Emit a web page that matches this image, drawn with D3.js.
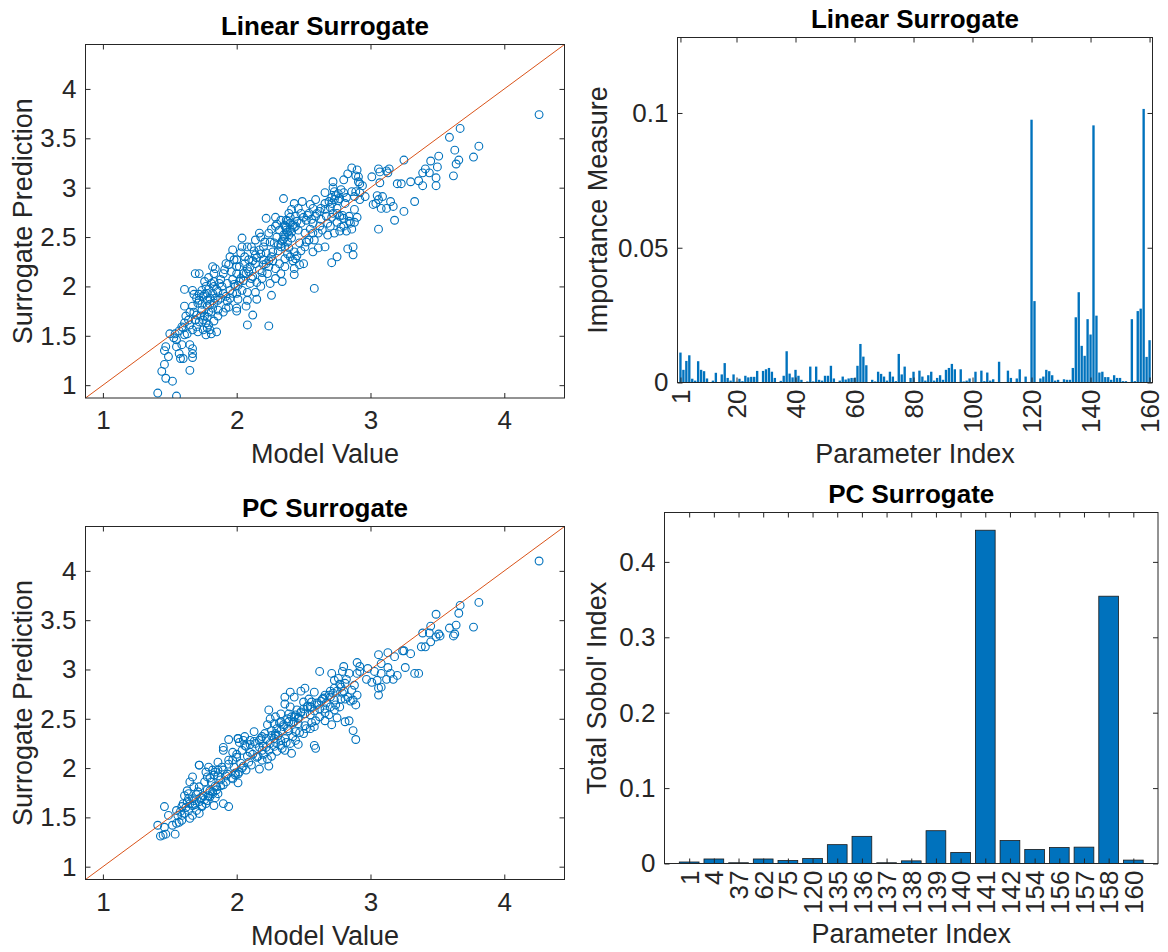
<!DOCTYPE html>
<html>
<head>
<meta charset="utf-8">
<script src="https://cdn.jsdelivr.net/npm/d3@7"></script>
<style>
  html, body { margin: 0; padding: 0; background: #ffffff; }
  svg { display: block; font-family: "Liberation Sans", Arial, Helvetica, sans-serif; }
</style>
</head>
<body>
<script>
// ---------- data ----------
// Linear surrogate: model value vs surrogate prediction
const linModel = [4.26,3.67,3.59,3.63,3.81,3.77,3.66,3.64,3.62,3.51,3.45,3.50,3.41,3.39,3.44,3.49,3.49,3.39,3.36,3.30,3.25,3.23,3.20,3.33,3.25,3.18,3.17,3.12,3.15,3.09,3.08,3.04,3.02,3.06,3.05,3.06,3.01,3.06,3.07,3.12,3.13,2.96,3.14,3.07,2.86,2.90,2.91,2.91,2.92,2.83,2.80,2.72,2.72,2.66,2.73,2.80,2.88,2.89,2.73,2.77,2.81,2.75,2.72,2.77,2.84,2.88,2.88,2.85,2.80,2.75,2.70,2.73,2.68,2.64,2.87,2.83,2.87,2.75,2.71,2.66,2.58,2.62,2.66,2.63,2.59,2.57,2.55,2.54,2.49,2.48,2.43,2.41,2.46,2.35,2.44,2.39,2.37,2.33,2.36,2.32,2.40,2.44,2.48,2.52,2.57,2.61,2.57,2.51,2.54,2.58,2.61,2.57,2.51,2.47,2.41,2.36,2.30,2.28,2.33,2.39,2.43,2.44,2.50,2.47,2.43,2.43,2.36,2.36,2.32,2.29,2.33,2.29,2.34,2.25,2.23,2.22,2.26,2.22,2.20,2.17,2.14,2.20,2.14,2.10,2.17,2.19,2.15,2.18,2.14,2.26,2.15,2.08,2.07,2.12,2.08,2.24,2.08,2.10,2.11,2.07,2.03,2.06,2.06,2.03,2.04,2.04,2.00,1.97,2.00,1.96,2.00,1.97,1.93,2.01,2.04,2.00,2.01,2.00,2.00,1.94,1.93,1.90,1.89,1.88,1.90,1.91,1.94,1.84,1.82,1.83,1.83,1.83,1.86,1.82,1.86,1.83,1.86,1.90,1.81,1.78,1.83,1.79,1.81,1.85,1.77,1.75,1.77,1.78,1.78,1.78,1.77,1.74,1.75,1.72,1.71,1.74,1.70,1.69,1.72,1.70,1.71,1.67,1.65,1.64,1.61,1.63,1.61,1.59,1.61,1.61,1.67,1.69,1.72,1.65,1.67,1.65,1.67,1.67,1.67,1.59,1.55,1.57,1.58,1.60,1.55,1.54,1.53,1.50,1.47,1.46,1.49,1.46,1.44,1.47,1.52,1.65,1.41,1.55,2.08,1.92,2.22,2.17,2.18,2.29,2.29,2.14,2.11,2.24,2.38,2.40,2.42,2.37,2.35,2.45,2.50,2.53,2.46,2.34,2.38,2.31,2.27,2.24,2.19,2.12,2.09,2.05,1.98,1.95,1.92,1.88,1.80,1.79,1.76,1.74,1.68,1.62,1.60,1.57,2.60,2.63,2.70,2.76,2.79,2.82,2.86,2.78,2.92,2.67,
  2.36,2.38,2.40,2.37,2.39,2.41,2.43,2.35,2.33,2.31,2.36,2.38,2.40,2.42,2.45,2.48,2.52,2.55,2.56,2.59,2.62,2.66,2.69,2.71,2.74,2.76,2.78,2.71,2.75,2.80,2.84,2.86,2.82,2.77,2.71,2.68,2.90,2.92,2.94,2.89,
  1.80,1.82,1.79,1.76,1.84,1.85,1.87,1.81,1.79,1.76,1.72,1.70,1.68,1.73,1.75,1.78,1.80,1.86,1.92,1.95,1.97,1.99,2.02,2.05,2.08,2.12,2.15,2.18,2.20,2.24,2.27,2.25,2.21,2.26,2.30,2.02,1.98,1.95,2.09,2.13];
const linPred = [3.74,3.60,3.51,3.38,3.42,3.31,3.28,3.24,3.12,3.32,3.27,3.21,3.19,3.15,3.15,3.10,3.02,3.02,3.07,3.06,3.28,3.04,3.04,2.86,2.76,2.67,2.81,2.79,2.86,2.91,2.79,2.84,2.83,2.88,2.92,2.58,3.11,3.19,3.05,3.17,3.15,2.91,3.19,3.16,3.20,3.18,3.11,3.06,3.04,3.14,3.08,3.06,3.00,2.95,2.96,2.95,2.91,2.96,2.88,2.89,2.84,2.79,2.74,2.71,2.71,2.78,2.65,2.64,2.61,2.65,2.61,2.54,2.52,2.57,2.40,2.38,2.32,2.30,2.24,2.40,1.98,2.61,2.84,2.79,2.88,2.79,2.83,2.74,2.86,2.74,2.84,2.78,2.79,2.89,2.71,2.74,2.67,2.67,2.61,2.57,2.64,2.61,2.64,2.67,2.64,2.54,2.54,2.54,2.47,2.47,2.39,2.35,2.40,2.44,2.49,2.50,2.50,2.44,2.40,2.39,2.35,2.28,2.23,2.22,2.18,2.12,2.28,2.20,2.23,2.18,2.13,2.08,2.05,2.03,2.13,2.23,2.30,2.34,2.40,2.37,2.32,2.27,2.23,2.20,2.17,2.08,2.04,2.00,1.94,1.91,1.87,1.86,1.80,1.71,1.61,1.60,1.94,2.03,2.08,2.13,2.08,2.23,2.30,2.34,2.40,2.49,2.27,2.37,2.20,2.15,2.13,2.07,2.03,2.01,1.96,1.93,1.87,1.78,1.75,1.79,1.85,1.93,2.00,2.07,2.13,2.17,2.22,2.18,2.20,2.13,2.05,2.00,1.95,1.93,1.86,1.83,1.76,1.74,1.74,1.69,1.65,1.61,1.52,1.54,1.51,1.56,1.63,1.80,1.86,1.93,2.00,1.96,1.90,1.86,1.83,1.76,1.71,1.66,1.64,1.59,1.54,1.56,1.61,1.66,1.63,1.52,1.51,1.59,1.80,1.97,1.96,2.13,2.13,1.74,1.80,1.41,1.37,1.32,1.28,1.41,1.39,1.32,1.27,1.27,1.46,1.52,1.48,1.52,1.39,1.35,1.29,1.21,1.14,1.07,1.04,1.15,0.92,0.89,2.40,2.23,2.69,2.54,2.50,2.61,2.70,2.47,2.40,2.54,2.55,2.58,2.62,2.60,2.52,2.66,2.70,2.72,2.57,2.46,2.45,2.36,2.26,2.20,2.14,2.10,2.15,2.06,2.02,1.96,1.90,1.88,1.88,1.97,1.92,1.82,1.74,1.70,1.58,1.55,2.74,2.68,2.80,2.87,2.72,2.90,2.96,2.60,2.95,2.71,
  2.62,2.66,2.70,2.57,2.52,2.55,2.60,2.48,2.43,2.42,2.40,2.33,2.30,2.26,2.31,2.36,2.45,2.58,2.68,2.71,2.76,2.78,2.86,2.90,2.92,2.94,2.98,2.84,2.74,2.69,2.66,2.58,2.56,2.56,2.70,2.64,2.70,2.88,3.02,3.12,
  1.82,1.78,1.74,1.70,1.88,1.97,2.03,2.03,2.09,2.05,1.92,1.88,1.92,1.70,1.66,1.58,1.56,1.70,1.78,1.88,1.93,2.00,2.05,2.13,2.18,2.26,2.29,2.33,2.22,2.26,2.35,2.45,2.45,2.58,2.63,2.20,2.27,2.30,2.27,2.36];

// PC surrogate: model value vs surrogate prediction
const pcModel = [4.26,3.81,3.67,3.66,3.77,3.49,3.45,3.64,3.59,3.63,3.62,3.51,3.49,3.52,3.44,3.39,3.45,3.41,3.38,3.36,3.33,3.30,3.24,3.25,3.26,3.18,3.13,3.06,3.08,3.13,3.15,3.20,3.17,3.12,3.08,3.03,3.05,3.01,3.06,3.06,2.97,3.08,2.90,2.92,2.90,2.84,2.80,2.79,2.71,2.62,2.73,2.76,2.81,2.88,2.86,2.90,2.87,2.89,2.81,2.79,2.73,2.69,2.66,2.73,2.77,2.73,2.66,2.69,2.75,2.81,2.84,2.87,2.89,2.71,2.66,2.62,2.59,2.58,2.58,2.59,2.51,2.48,2.58,2.54,2.56,2.50,2.40,2.43,2.36,2.36,2.40,2.45,2.51,2.55,2.44,2.39,2.33,2.29,2.24,2.25,2.28,2.33,2.39,2.46,2.51,2.55,2.50,2.44,2.39,2.33,2.29,2.26,2.21,2.23,2.19,2.17,2.13,2.36,2.40,2.46,2.41,2.36,2.33,2.29,2.25,2.22,2.19,2.17,2.14,2.10,2.06,2.01,2.06,2.10,2.15,2.19,2.23,2.24,2.17,2.11,2.07,2.03,2.00,1.97,1.94,1.98,2.01,2.01,1.97,1.93,1.90,1.90,1.94,2.01,1.89,1.86,1.86,1.83,1.88,1.90,1.85,1.81,1.78,1.77,1.72,1.79,1.82,1.76,1.72,1.78,1.82,1.86,1.80,1.75,1.71,1.68,1.67,1.65,1.63,1.61,1.64,1.68,1.72,1.77,1.83,1.74,1.70,1.72,1.67,1.64,1.60,1.59,1.61,1.65,1.67,1.90,1.94,1.55,1.59,1.57,1.55,1.52,1.49,1.46,1.46,1.41,1.45,1.47,1.43,1.54,1.59,1.63,1.64,1.72,2.38,2.42,2.46,2.31,2.35,2.48,2.53,2.28,2.20,2.08,2.04,1.99,1.92,1.84,1.80,1.74,1.69,2.63,2.70,2.77,2.82,2.60,2.65,2.92,2.98,2.55,2.43,
  2.30,2.32,2.35,2.38,2.41,2.43,2.46,2.48,2.50,2.53,2.56,2.58,2.60,2.64,2.67,2.70,2.72,2.75,2.78,2.80,2.83,2.85,2.78,2.74,2.70,2.66,2.62,2.56,2.52,2.47,2.42,2.37,2.33,2.28,2.24,2.20,2.16,2.12,2.09,2.05,
  2.02,1.99,1.96,1.92,1.88,1.85,1.82,1.79,1.76,1.73,1.70,1.67,1.65,1.62,1.58,1.56,1.80,1.84,1.86,1.90,1.94,1.97,2.00,2.04,2.07,2.10,2.13,2.18,2.22,2.26,2.29,2.02,2.05,1.84,1.78,1.74,2.26,2.30,2.34,2.44];
const pcPred = [4.10,3.68,3.65,3.57,3.43,3.56,3.44,3.45,3.42,3.36,3.34,3.36,3.33,3.34,3.37,3.37,3.28,3.23,3.23,2.96,2.96,3.16,3.19,3.19,3.02,3.13,3.17,3.15,3.06,3.02,2.96,2.94,2.90,2.90,2.96,2.98,2.89,2.87,2.81,2.74,2.90,2.82,3.07,3.03,2.96,2.96,3.03,2.98,2.96,2.98,2.89,2.91,2.86,2.84,2.79,2.74,2.69,2.64,2.70,2.76,2.81,2.74,2.74,2.69,2.62,2.59,2.60,2.54,2.51,2.47,2.48,2.38,2.29,2.44,2.48,2.60,2.48,2.42,2.23,2.20,2.81,2.78,2.77,2.70,2.67,2.67,2.77,2.72,2.72,2.65,2.62,2.59,2.55,2.54,2.54,2.55,2.55,2.52,2.59,2.50,2.45,2.47,2.47,2.45,2.43,2.40,2.35,2.37,2.38,2.38,2.35,2.33,2.35,2.44,2.32,2.28,2.37,2.30,2.25,2.24,2.15,2.18,2.23,2.26,2.25,2.21,2.18,2.21,2.25,2.28,2.32,2.30,2.23,2.16,2.11,2.08,2.09,2.02,1.99,2.03,1.98,2.05,2.11,2.16,2.08,2.01,1.94,1.85,1.89,1.94,2.21,2.18,2.29,2.30,2.01,2.06,1.98,1.93,1.88,1.83,1.81,1.86,1.91,1.96,2.03,2.01,1.98,1.86,1.81,1.78,1.74,1.74,1.71,1.72,1.76,1.81,1.91,1.86,1.77,1.72,1.69,1.67,1.66,1.64,1.62,1.61,1.57,1.54,1.62,1.57,1.64,1.61,1.54,1.49,1.52,1.64,1.61,1.57,1.52,1.45,1.44,1.42,1.52,1.61,1.40,1.42,1.32,1.33,1.31,1.33,1.47,1.66,1.74,2.03,2.40,2.46,2.51,2.33,2.42,2.57,2.62,2.30,2.22,2.12,2.00,1.95,1.92,1.82,1.77,1.70,1.63,2.68,2.78,2.85,2.90,2.64,2.71,2.98,3.01,2.62,2.52,
  2.40,2.46,2.44,2.50,2.52,2.47,2.50,2.56,2.60,2.63,2.62,2.58,2.66,2.70,2.66,2.72,2.76,2.78,2.82,2.78,2.72,2.68,2.70,2.64,2.62,2.56,2.52,2.46,2.40,2.36,2.32,2.26,2.28,2.22,2.18,2.14,2.12,2.14,2.06,2.02,
  1.96,1.93,1.90,1.86,1.82,1.78,1.76,1.72,1.68,1.70,1.73,1.69,1.64,1.60,1.56,1.52,1.90,1.96,1.92,1.98,2.04,2.08,2.14,2.18,2.22,2.24,2.27,2.30,2.30,2.38,2.33,2.26,2.28,1.70,1.67,1.62,2.12,2.17,2.20,2.28];

const scatterTicks = [1, 2, 3, 4];
const scatterYTicks = [1, 1.5, 2, 2.5, 3, 3.5, 4];
const scatterDomain = [0.87, 4.45];

// Linear surrogate importance measure for parameters 1..160
const importance = [0.0111,0.0047,0.0080,0.0101,0.0014,0.0007,0.0079,0.0047,0.0042,0.0015,
  0.0000,0.0007,0.0036,0.0000,0.0030,0.0072,0.0017,0.0007,0.0030,0.0003,
  0.0014,0.0005,0.0025,0.0019,0.0021,0.0021,0.0043,0.0000,0.0043,0.0049,
  0.0054,0.0040,0.0017,0.0000,0.0006,0.0025,0.0116,0.0033,0.0019,0.0047,
  0.0025,0.0010,0.0000,0.0004,0.0059,0.0004,0.0059,0.0010,0.0007,0.0025,
  0.0025,0.0062,0.0015,0.0000,0.0007,0.0022,0.0011,0.0015,0.0017,0.0017,
  0.0062,0.0143,0.0096,0.0064,0.0000,0.0010,0.0004,0.0040,0.0032,0.0022,
  0.0007,0.0040,0.0022,0.0005,0.0106,0.0030,0.0059,0.0000,0.0017,0.0040,
  0.0000,0.0044,0.0022,0.0007,0.0027,0.0040,0.0007,0.0017,0.0027,0.0010,
  0.0047,0.0054,0.0069,0.0049,0.0002,0.0049,0.0004,0.0007,0.0015,0.0000,
  0.0040,0.0002,0.0044,0.0005,0.0037,0.0007,0.0012,0.0002,0.0077,0.0000,
  0.0002,0.0044,0.0017,0.0002,0.0015,0.0049,0.0002,0.0022,0.0002,0.0975,
  0.0302,0.0002,0.0015,0.0022,0.0047,0.0042,0.0027,0.0007,0.0010,0.0002,
  0.0012,0.0010,0.0010,0.0054,0.0242,0.0335,0.0136,0.0099,0.0235,0.0178,
  0.0954,0.0248,0.0037,0.0040,0.0020,0.0020,0.0010,0.0027,0.0017,0.0017,
  0.0005,0.0005,0.0000,0.0235,0.0005,0.0265,0.0274,0.1015,0.0095,0.0157];
const importanceTicks = [1, 20, 40, 60, 80, 100, 120, 140, 160];
const importanceYTicks = [0, 0.05, 0.1];

// PC surrogate total Sobol' indices for selected parameters
const sobolParams = ["1","4","37","62","75","120","135","136","137","138","139","140","141","142","154","156","157","158","160"];
const sobolTotal = [0.002,0.006,0.001,0.006,0.004,0.0065,0.025,0.036,0.001,0.0035,0.0435,0.0147,0.442,0.0305,0.0187,0.0212,0.0217,0.3545,0.0045];
const sobolYTicks = [0, 0.1, 0.2, 0.3, 0.4];

// ---------- drawing ----------
const W = 1168, H = 952;
const BLUE = "#0072BD", ORANGE = "#D95319", AXIS = "#262626";
const TICK_FONT = 26, LABEL_FONT = 27, TITLE_FONT = 26, TICK_LEN = 5;

const svg = d3.select("body").append("svg")
  .attr("width", W).attr("height", H)
  .attr("viewBox", `0 0 ${W} ${H}`);

const frames = {
  linScatter: { left: 85.5, top: 44.5, right: 564.5, bottom: 398 },
  linBars:    { left: 677.5, top: 37.5, right: 1152.5, bottom: 382.5 },
  pcScatter:  { left: 85.5, top: 526.5, right: 564.5, bottom: 879.5 },
  pcBars:     { left: 664.5, top: 512.5, right: 1158, bottom: 863.5 }
};

function styleAxis(sel) {
  sel.select(".domain").remove();
  sel.selectAll(".tick line").attr("stroke", AXIS).attr("stroke-width", 1);
  sel.selectAll(".tick text").attr("fill", AXIS)
    .style("font-size", TICK_FONT + "px")
    .style("font-family", '"Liberation Sans", Arial, Helvetica, sans-serif');
}

function frameBox(g, f) {
  g.append("rect")
    .attr("x", f.left).attr("y", f.top)
    .attr("width", f.right - f.left).attr("height", f.bottom - f.top)
    .attr("fill", "none").attr("stroke", AXIS).attr("stroke-width", 1);
}

function title(g, f, text, dy) {
  g.append("text")
    .attr("x", (f.left + f.right) / 2).attr("y", f.top - dy)
    .attr("text-anchor", "middle")
    .attr("fill", "#000")
    .style("font-size", TITLE_FONT + "px").style("font-weight", "bold")
    .text(text);
}

function xLabel(g, f, text, y) {
  g.append("text")
    .attr("x", (f.left + f.right) / 2).attr("y", y)
    .attr("text-anchor", "middle").attr("fill", AXIS)
    .style("font-size", LABEL_FONT + "px")
    .text(text);
}

function yLabel(g, f, text, x) {
  g.append("text")
    .attr("transform", `translate(${x},${(f.top + f.bottom) / 2}) rotate(-90)`)
    .attr("text-anchor", "middle").attr("fill", AXIS)
    .style("font-size", LABEL_FONT + "px")
    .text(text);
}

function scatterPanel(f, xs, ys, name, clipId) {
  const g = svg.append("g");
  const x = d3.scaleLinear().domain(scatterDomain).range([f.left, f.right]);
  const y = d3.scaleLinear().domain(scatterDomain).range([f.bottom, f.top]);

  g.append("clipPath").attr("id", clipId).append("rect")
    .attr("x", f.left).attr("y", f.top)
    .attr("width", f.right - f.left).attr("height", f.bottom - f.top);

  const plot = g.append("g").attr("clip-path", `url(#${clipId})`);
  plot.selectAll("circle").data(xs.map((v, i) => [v, ys[i]])).join("circle")
    .attr("cx", d => x(d[0])).attr("cy", d => y(d[1])).attr("r", 3.9)
    .attr("fill", "none").attr("stroke", BLUE).attr("stroke-width", 1.1);

  // 1:1 reference line across the axes
  plot.append("line")
    .attr("x1", x(scatterDomain[0])).attr("y1", y(scatterDomain[0]))
    .attr("x2", x(scatterDomain[1])).attr("y2", y(scatterDomain[1]))
    .attr("stroke", ORANGE).attr("stroke-width", 1);

  g.append("g").attr("transform", `translate(0,${f.bottom})`)
    .call(d3.axisBottom(x).tickValues(scatterTicks).tickFormat(d3.format("")).tickSize(-TICK_LEN).tickPadding(13))
    .call(styleAxis);
  g.append("g").attr("transform", `translate(0,${f.top})`)
    .call(d3.axisTop(x).tickValues(scatterTicks).tickFormat("").tickSize(-TICK_LEN))
    .call(styleAxis);
  g.append("g").attr("transform", `translate(${f.left},0)`)
    .call(d3.axisLeft(y).tickValues(scatterYTicks).tickFormat(d3.format("")).tickSize(-TICK_LEN).tickPadding(9))
    .call(styleAxis);
  g.append("g").attr("transform", `translate(${f.right},0)`)
    .call(d3.axisRight(y).tickValues(scatterYTicks).tickFormat("").tickSize(-TICK_LEN))
    .call(styleAxis);

  frameBox(g, f);
  title(g, f, name, 10);
  xLabel(g, f, "Model Value", f.bottom + 65);
  yLabel(g, f, "Surrogate Prediction", 32);
}

function rotateTickLabels(sel, gap) {
  sel.selectAll(".tick text")
    .attr("transform", `translate(0,${gap}) rotate(-90)`)
    .attr("x", 0).attr("y", 0).attr("dy", "0.35em")
    .attr("text-anchor", "end");
}

// Linear surrogate importance bars
(function () {
  const f = frames.linBars;
  const g = svg.append("g");
  const idx = importance.map((_, i) => i + 1);
  const x = d3.scaleLinear().domain([0, 161]).range([f.left, f.right]);
  const y = d3.scaleLinear().domain([0, 0.128]).range([f.bottom, f.top]);
  const bw = (x(1) - x(0)) * 0.8;

  g.selectAll("rect.bar").data(idx).join("rect").attr("class", "bar")
    .attr("x", d => x(d) - bw / 2).attr("width", bw)
    .attr("y", d => y(importance[d - 1]))
    .attr("height", d => y(0) - y(importance[d - 1]))
    .attr("fill", BLUE);

  g.append("g").attr("transform", `translate(0,${f.bottom})`)
    .call(d3.axisBottom(x).tickValues(importanceTicks).tickFormat(d3.format("")).tickSize(-TICK_LEN))
    .call(styleAxis).call(s => rotateTickLabels(s, 7));
  g.append("g").attr("transform", `translate(0,${f.top})`)
    .call(d3.axisTop(x).tickValues(importanceTicks).tickFormat("").tickSize(-TICK_LEN))
    .call(styleAxis);
  g.append("g").attr("transform", `translate(${f.left},0)`)
    .call(d3.axisLeft(y).tickValues(importanceYTicks).tickFormat(d3.format("")).tickSize(-TICK_LEN).tickPadding(9))
    .call(styleAxis);
  g.append("g").attr("transform", `translate(${f.right},0)`)
    .call(d3.axisRight(y).tickValues(importanceYTicks).tickFormat("").tickSize(-TICK_LEN))
    .call(styleAxis);

  frameBox(g, f);
  title(g, f, "Linear Surrogate", 10);
  xLabel(g, f, "Parameter Index", 463);
  yLabel(g, f, "Importance Measure", 607);
})();

// PC surrogate Sobol' bars
(function () {
  const f = frames.pcBars;
  const g = svg.append("g");
  const pos = sobolParams.map((_, i) => i + 1);
  const x = d3.scaleLinear().domain([0, sobolParams.length + 1]).range([f.left, f.right]);
  const y = d3.scaleLinear().domain([0, 0.4655]).range([f.bottom, f.top]);
  const bw = (x(1) - x(0)) * 0.8;

  g.selectAll("rect.bar").data(pos).join("rect").attr("class", "bar")
    .attr("x", d => x(d) - bw / 2).attr("width", bw)
    .attr("y", d => y(sobolTotal[d - 1]))
    .attr("height", d => y(0) - y(sobolTotal[d - 1]))
    .attr("fill", BLUE).attr("stroke", "#1a1a1a").attr("stroke-width", 0.8);

  g.append("g").attr("transform", `translate(0,${f.bottom})`)
    .call(d3.axisBottom(x).tickValues(pos).tickFormat(d => sobolParams[d - 1]).tickSize(-TICK_LEN))
    .call(styleAxis).call(s => rotateTickLabels(s, 7));
  g.append("g").attr("transform", `translate(0,${f.top})`)
    .call(d3.axisTop(x).tickValues(pos).tickFormat("").tickSize(-TICK_LEN))
    .call(styleAxis);
  g.append("g").attr("transform", `translate(${f.left},0)`)
    .call(d3.axisLeft(y).tickValues(sobolYTicks).tickFormat(d3.format("")).tickSize(-TICK_LEN).tickPadding(9))
    .call(styleAxis);
  g.append("g").attr("transform", `translate(${f.right},0)`)
    .call(d3.axisRight(y).tickValues(sobolYTicks).tickFormat("").tickSize(-TICK_LEN))
    .call(styleAxis);

  frameBox(g, f);
  title(g, f, "PC Surrogate", 10);
  xLabel(g, f, "Parameter Index", 943);
  yLabel(g, f, "Total Sobol' Index", 606);
})();

scatterPanel(frames.linScatter, linModel, linPred, "Linear Surrogate", "clip-lin");
scatterPanel(frames.pcScatter, pcModel, pcPred, "PC Surrogate", "clip-pc");
</script>
</body>
</html>
